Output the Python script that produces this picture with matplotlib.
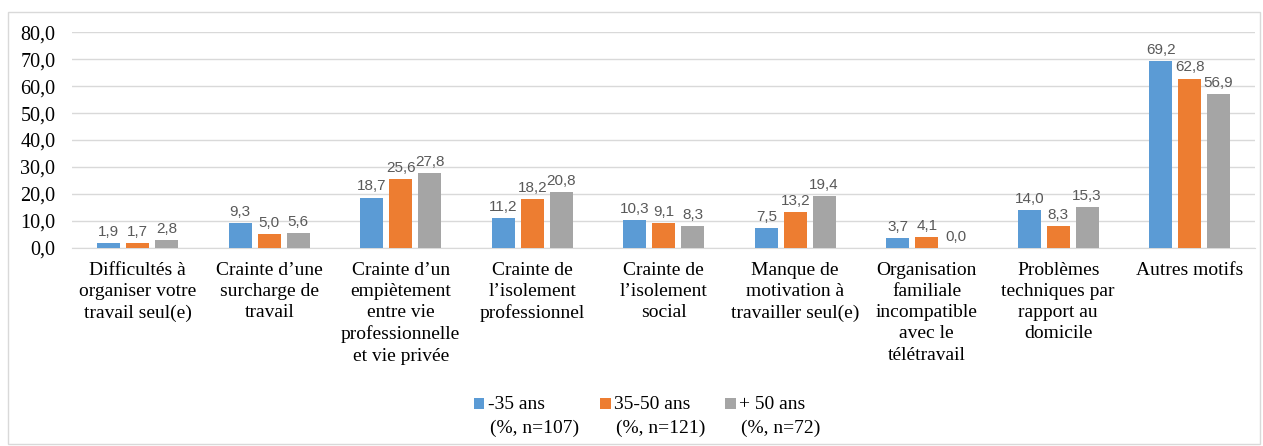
import numpy as np
import matplotlib
matplotlib.use("Agg")
import matplotlib.pyplot as plt
from matplotlib.patches import Rectangle

# data
categories = ["Difficultés à\norganiser votre\ntravail seul(e)",
              "Crainte d'une\nsurcharge de\ntravail",
              "Crainte d'un\nempiètement\nentre vie\nprofessionnelle\net vie privée",
              "Crainte de\nl'isolement\nprofessionnel",
              "Crainte de\nl'isolement\nsocial",
              "Manque de\nmotivation à\ntravailler seul(e)",
              "Organisation\nfamiliale\nincompatible\navec le\ntélétravail",
              "Problèmes\ntechniques par\nrapport au\ndomicile",
              "Autres motifs"]
categories = [c.replace("'", "\u2019") for c in categories]
under35 = [1.9, 9.3, 18.7, 11.2, 10.3, 7.5, 3.7, 14.0, 69.2]
from35to50 = [1.7, 5.0, 25.6, 18.2, 9.1, 13.2, 4.1, 8.3, 62.8]
over50 = [2.8, 5.6, 27.8, 20.8, 8.3, 19.4, 0.0, 15.3, 56.9]
series_names = ["-35 ans\n(%, n=107)", "35-50 ans\n(%, n=121)", "+ 50 ans\n(%, n=72)"]
colors = ["#5B9BD5", "#ED7D31", "#A5A5A5"]

serif = "Liberation Serif"

fig = plt.figure(figsize=(12.63, 4.46), dpi=100)
ax = fig.add_axes([0.057, 0.444, 0.937, 0.484])

# outer chart border
fig.patches.append(Rectangle((0.006, 0.004), 0.992, 0.968, transform=fig.transFigure,
                             fill=False, edgecolor="#D9D9D9", linewidth=1))

x = np.arange(len(categories))
w = 0.175
step = 0.22
for i, (vals, name, c) in enumerate(zip([under35, from35to50, over50], series_names, colors)):
    pos = x + (i - 1) * step
    bars = ax.bar(pos, vals, width=w, color=c, label=name, zorder=3)
    for b, v in zip(bars, vals):
        ax.text(b.get_x() + b.get_width() / 2, v + 1.5, f"{v:.1f}".replace(".", ","),
                ha="center", va="bottom", fontsize=11, color="#595959",
                family="Liberation Sans")

ax.set_xlim(-0.5, len(categories) - 0.5)
ax.set_ylim(0, 80)
ax.set_yticks(np.arange(0, 81, 10))
ax.set_yticklabels([f"{t:.1f}".replace(".", ",") for t in np.arange(0, 81, 10)],
                   family=serif, fontsize=14.5)
ax.yaxis.grid(True, color="#D9D9D9", linewidth=1, zorder=0)
ax.set_xticks(x)
ax.set_xticklabels(categories, family=serif, fontsize=14, linespacing=1.32, va="top")
ax.tick_params(axis="both", length=0)
ax.tick_params(axis="x", pad=10)
ax.tick_params(axis="y", pad=12)
for s in ["top", "right", "left"]:
    ax.spines[s].set_visible(False)
ax.spines["bottom"].set_color("#D9D9D9")

# legend: square aligned with the first line of a two-line label
leg_x = [0.375, 0.475, 0.574]
for lx, name, c in zip(leg_x, series_names, colors):
    fig.patches.append(Rectangle((lx, 0.082), 0.0085, 0.026, transform=fig.transFigure,
                                 facecolor=c, edgecolor="none"))
    first, second = name.split("\n")
    fig.text(lx + 0.011, 0.113, first, family=serif, fontsize=14, va="top", ha="left")
    fig.text(lx + 0.013, 0.058, second, family=serif, fontsize=14, va="top", ha="left")

fig.savefig("out.png", dpi=100)
